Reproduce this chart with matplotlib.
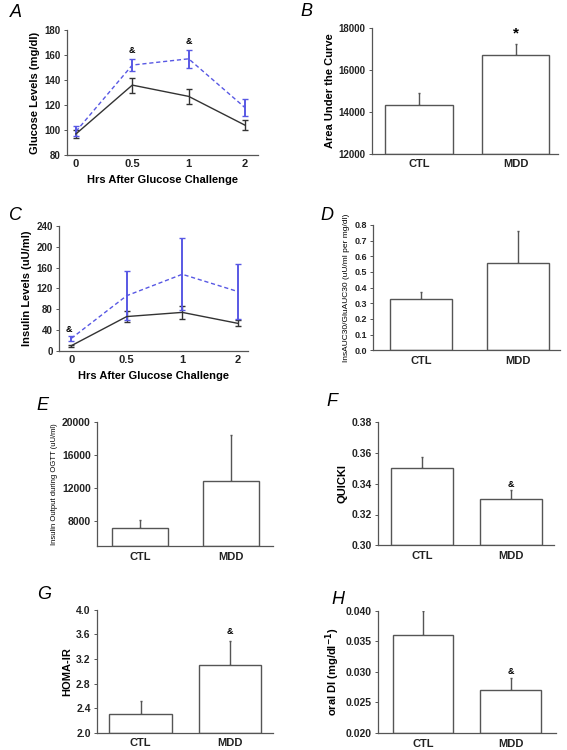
import matplotlib
matplotlib.use("Agg")
import matplotlib.pyplot as plt

plt.rcParams['font.family'] = ['Liberation Sans', 'DejaVu Sans']
plt.rcParams['font.weight'] = 'bold'
plt.rcParams['axes.labelweight'] = 'bold'

# time course data
hours = ['0', '0.5', '1', '2']
glu_ctl = [97, 136, 127, 104]
glu_ctl_err = [3, 6, 6, 4]
glu_mdd = [99, 152, 157, 118]
glu_mdd_err = [4, 5, 7, 7]

ins_ctl = [10, 66, 74, 53]
ins_ctl_err = [2, 10, 13, 6]
ins_mdd = [24, 106, 147, 114]
ins_mdd_err = [4, 47, 69, 53]

groups = ['CTL', 'MDD']
auc_vals = [14350, 16720]
auc_err = [560, 560]
ratio_vals = [0.33, 0.56]
ratio_err = [0.04, 0.20]
output_vals = [7150, 12900]
output_err = [950, 5500]
quicki_vals = [0.350, 0.330]
quicki_err = [0.0072, 0.006]
homa_vals = [2.30, 3.10]
homa_err = [0.22, 0.40]
di_vals = [0.036, 0.027]
di_err = [0.004, 0.002]

fig = plt.figure(figsize=(5.67, 7.5), dpi=100)

dark = '#333333'
blue = '#5858e4'


def style(ax, yticks, tick_size=7):
    ax.spines['top'].set_visible(False)
    ax.spines['right'].set_visible(False)
    for s in ['left', 'bottom']:
        ax.spines[s].set_color('#555555')
        ax.spines[s].set_linewidth(0.9)
    ax.set_yticks(yticks)
    ax.tick_params(axis='y', length=2.5, width=0.7, color='#555555',
                   labelsize=tick_size, pad=2, labelcolor='#222222')
    ax.set_ylim(yticks[0], yticks[-1])


def line_panel(rect, ctl, ctl_err, mdd, mdd_err, yticks, ylabel, xlim, marks, letter, lpos):
    ax = fig.add_axes(rect)
    x = range(len(hours))
    ax.errorbar(x, ctl, yerr=ctl_err, color=dark, lw=1.0, capsize=2, elinewidth=1.0)
    ax.errorbar(x, mdd, yerr=mdd_err, color=blue, lw=1.0, ls=(0, (3, 2)),
                capsize=2, elinewidth=1.4)
    style(ax, yticks)
    ax.set_xlim(*xlim)
    ax.set_xticks(list(x))
    ax.set_xticklabels(hours)
    ax.tick_params(axis='x', length=0, labelsize=8, pad=3, labelcolor='#222222')
    ax.set_xlabel('Hrs After Glucose Challenge', fontsize=8, labelpad=4)
    ax.set_ylabel(ylabel, fontsize=8, labelpad=3)
    for xi, yi in marks:
        ax.text(xi, yi, '&', fontsize=6.5, ha='center', va='center')
    fig.text(lpos[0], lpos[1], letter, fontsize=13, style='italic',
             fontweight='normal', ha='left', va='center')
    return ax


def bar_panel(rect, vals, err, yticks, ylabel, xlim, width, letter, lpos,
              ylabel_size=8, ylabel_weight='bold', tick_size=7, mark=None):
    ax = fig.add_axes(rect)
    x = range(len(groups))
    base = yticks[0]
    ax.bar(x, [v - base for v in vals], bottom=base, width=width, color='white',
           edgecolor='#555555', linewidth=1.0, zorder=2)
    ax.errorbar(x, vals, yerr=[[0] * len(err), err], fmt='none', ecolor='#555555',
                elinewidth=1.0, capsize=1, zorder=1)
    style(ax, yticks, tick_size)
    ax.set_xlim(*xlim)
    ax.set_xticks(list(x))
    ax.set_xticklabels(groups)
    ax.tick_params(axis='x', length=0, labelsize=8, pad=4, labelcolor='#222222')
    ax.set_ylabel(ylabel, fontsize=ylabel_size, fontweight=ylabel_weight, labelpad=3)
    if mark is not None:
        ax.text(mark[0], mark[1], mark[2], fontsize=mark[3], ha='center', va='center')
    fig.text(lpos[0], lpos[1], letter, fontsize=13, style='italic',
             fontweight='normal', ha='left', va='center')
    return ax


# A
line_panel([0.118, 0.793, 0.337, 0.167], glu_ctl, glu_ctl_err, glu_mdd, glu_mdd_err,
           [80, 100, 120, 140, 160, 180], 'Glucose Levels (mg/dl)', (-0.16, 3.23),
           [(1, 164), (2, 171)], 'A', (0.018, 0.983))

# B
bar_panel([0.656, 0.795, 0.328, 0.167], auc_vals, auc_err,
          [12000, 14000, 16000, 18000], 'Area Under the Curve', (-0.49, 1.44), 0.70,
          'B', (0.53, 0.985), mark=(1, 17750, '*', 11))

# C
line_panel([0.104, 0.532, 0.333, 0.167], ins_ctl, ins_ctl_err, ins_mdd, ins_mdd_err,
           [0, 40, 80, 120, 160, 200, 240], 'Insulin Levels (uU/ml)', (-0.22, 3.18),
           [(-0.05, 42)], 'C', (0.015, 0.713))

# D
bar_panel([0.658, 0.533, 0.330, 0.167], ratio_vals, ratio_err,
          [0.0, 0.1, 0.2, 0.3, 0.4, 0.5, 0.6, 0.7, 0.8],
          'InsAUC30/GluAUC30 (uU/ml per mg/dl)', (-0.49, 1.43), 0.64,
          'D', (0.565, 0.713), ylabel_size=6, ylabel_weight='normal', tick_size=6.5)

# E
axE = bar_panel([0.171, 0.272, 0.310, 0.165], output_vals, output_err,
                [5000, 8000, 12000, 16000, 20000], 'Insulin Output during OGTT (uU/ml)',
                (-0.47, 1.46), 0.62, 'E', (0.065, 0.46),
                ylabel_size=5.5, ylabel_weight='normal', tick_size=7.5)
axE.set_yticks([8000, 12000, 16000, 20000])
axE.set_ylim(5000, 20000)

# F
axF = bar_panel([0.667, 0.273, 0.310, 0.164], quicki_vals, quicki_err,
                [0.30, 0.32, 0.34, 0.36, 0.38], 'QUICKI', (-0.50, 1.49), 0.70,
                'F', (0.575, 0.464), tick_size=7.5, mark=(1, 0.3395, '&', 6.5))
axF.set_yticklabels(['0.30', '0.32', '0.34', '0.36', '0.38'])

# G
axG = bar_panel([0.171, 0.023, 0.310, 0.164], homa_vals, homa_err,
                [2.0, 2.4, 2.8, 3.2, 3.6, 4.0], 'HOMA-IR', (-0.49, 1.48), 0.70,
                'G', (0.065, 0.207), tick_size=7.5, mark=(1, 3.64, '&', 6.5))
axG.set_yticklabels(['2.0', '2.4', '2.8', '3.2', '3.6', '4.0'])

# H
axH = bar_panel([0.667, 0.0227, 0.314, 0.163], di_vals, di_err,
                [0.020, 0.025, 0.030, 0.035, 0.040], 'oral DI (mg/dl$^{-1}$)',
                (-0.51, 1.52), 0.69, 'H', (0.585, 0.2), tick_size=7.5,
                mark=(1, 0.0300, '&', 6.5))
axH.set_yticklabels(['0.020', '0.025', '0.030', '0.035', '0.040'])

fig.savefig('out.png', dpi=100, facecolor='white')
